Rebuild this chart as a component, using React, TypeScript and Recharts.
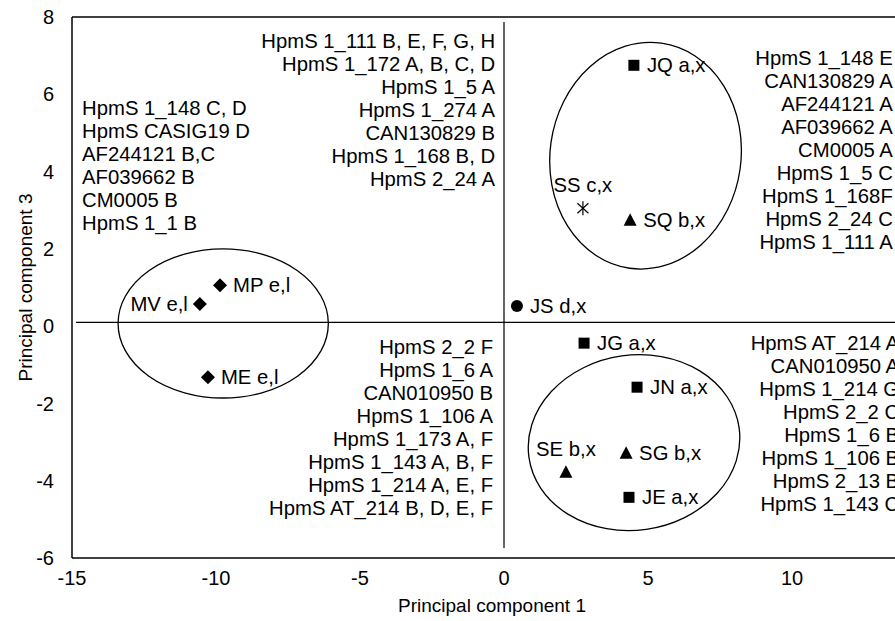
import {
	ReferenceArea,
	ReferenceDot,
	ReferenceLine,
	Scatter,
	ScatterChart,
	XAxis,
	YAxis,
} from 'recharts'

// PCA scores (PC1 vs PC3)
const diamondPoints = [
	{ name: 'MV e,l', x: -10.56, y: 0.57 },
	{ name: 'MP e,l', x: -9.86, y: 1.06 },
	{ name: 'ME e,l', x: -10.28, y: -1.32 },
]
const circlePoints = [{ name: 'JS d,x', x: 0.45, y: 0.52 }]
const squarePoints = [
	{ name: 'JQ a,x', x: 4.51, y: 6.75 },
	{ name: 'JG a,x', x: 2.78, y: -0.44 },
	{ name: 'JN a,x', x: 4.62, y: -1.58 },
	{ name: 'JE a,x', x: 4.34, y: -4.43 },
]
const trianglePoints = [
	{ name: 'SQ b,x', x: 4.38, y: 2.74 },
	{ name: 'SG b,x', x: 4.24, y: -3.29 },
	{ name: 'SE b,x', x: 2.15, y: -3.78 },
]
const starPoints = [{ name: 'SS c,x', x: 2.74, y: 3.05 }]

const xTicks = [-15, -10, -5, 0, 5, 10, 15]
const yTicks = [-6, -4, -2, 0, 2, 4, 6, 8]

const upperLeftStrains = [
	'HpmS 1_148 C, D',
	'HpmS CASIG19 D',
	'AF244121 B,C',
	'AF039662 B',
	'CM0005 B',
	'HpmS 1_1 B',
]
const upperMiddleStrains = [
	'HpmS 1_111 B, E, F, G, H',
	'HpmS 1_172 A, B, C, D',
	'HpmS 1_5 A',
	'HpmS 1_274 A',
	'CAN130829 B',
	'HpmS 1_168 B, D',
	'HpmS 2_24 A',
]
const lowerMiddleStrains = [
	'HpmS 2_2 F',
	'HpmS 1_6 A',
	'CAN010950 B',
	'HpmS 1_106 A',
	'HpmS 1_173 A, F',
	'HpmS 1_143 A, B, F',
	'HpmS 1_214 A, E, F',
	'HpmS AT_214 B, D, E, F',
]
const upperRightStrains = [
	'HpmS 1_148 E',
	'CAN130829 A',
	'AF244121 A',
	'AF039662 A',
	'CM0005 A',
	'HpmS 1_5 C',
	'HpmS 1_168F',
	'HpmS 2_24 C',
	'HpmS 1_111 A',
]
const lowerRightStrains = [
	'HpmS AT_214 A',
	'CAN010950 A',
	'HpmS 1_214 G',
	'HpmS 2_2 C',
	'HpmS 1_6 B',
	'HpmS 1_106 B',
	'HpmS 2_13 B',
	'HpmS 1_143 C',
]

const FONT = '"Liberation Sans", Arial, sans-serif'
const TEXT_SIZE = 20.3

// where the point label sits, if not to the right
const labelSide: Record<string, string> = {
	'MV e,l': 'left',
	'SS c,x': 'above',
	'SE b,x': 'above',
}

function PointLabel({ cx, cy, name }: any) {
	const side = labelSide[name] || 'right'
	let x = cx + 13
	let y = cy
	let anchor = 'start'
	if (side === 'left') {
		x = cx - 12
		anchor = 'end'
	} else if (side === 'above') {
		x = cx
		y = cy - 23
		anchor = 'middle'
	}
	return (
		<text x={x} y={y} dy='0.35em' textAnchor={anchor} fontSize={TEXT_SIZE} fontFamily={FONT} fill='#000'>
			{name}
		</text>
	)
}

const makeShape = (kind: string) => (props: any) => {
	const { cx, cy, payload } = props
	let mark = null
	if (kind === 'diamond') {
		mark = <polygon points={`${cx},${cy - 7} ${cx + 7},${cy} ${cx},${cy + 7} ${cx - 7},${cy}`} fill='#000' />
	} else if (kind === 'square') {
		mark = <rect x={cx - 5.5} y={cy - 5.5} width={11} height={11} fill='#000' />
	} else if (kind === 'triangle') {
		mark = <polygon points={`${cx},${cy - 7} ${cx + 6.5},${cy + 5.5} ${cx - 6.5},${cy + 5.5}`} fill='#000' />
	} else if (kind === 'circle') {
		mark = <circle cx={cx} cy={cy} r={6} fill='#000' />
	} else {
		mark = (
			<g stroke='#000' strokeWidth={1.2}>
				<line x1={cx} y1={cy - 7} x2={cx} y2={cy + 7} />
				<line x1={cx - 5.5} y1={cy - 5} x2={cx + 5.5} y2={cy + 5} />
				<line x1={cx - 5.5} y1={cy + 5} x2={cx + 5.5} y2={cy - 5} />
			</g>
		)
	}
	return (
		<g>
			{mark}
			<PointLabel cx={cx} cy={cy} name={payload.name} />
		</g>
	)
}

const ellipseShape = (angle: number) => (p: any) => {
	const cx = p.x + p.width / 2
	const cy = p.y + p.height / 2
	return (
		<ellipse
			cx={cx}
			cy={cy}
			rx={Math.abs(p.width) / 2}
			ry={Math.abs(p.height) / 2}
			transform={`rotate(${angle} ${cx} ${cy})`}
			fill='none'
			stroke='#000'
			strokeWidth={1.3}
		/>
	)
}

const textBlock = (lines: string[], anchor: string) => (p: any) => (
	<text x={p.cx} y={p.cy} textAnchor={anchor} fontSize={TEXT_SIZE} fontFamily={FONT} fill='#000'>
		{lines.map((l, i) => (
			<tspan key={i} x={p.cx} dy={i === 0 ? '0.35em' : 23}>
				{l}
			</tspan>
		))}
	</text>
)

export default function App() {
	return (
		<div
			style={{
				position: 'fixed',
				left: 0,
				top: 0,
				width: 895,
				height: 621,
				overflow: 'hidden',
				background: '#fff',
			}}
		>
			<ScatterChart
				width={946}
				height={621}
				margin={{ top: 17, right: 10, left: 12, bottom: 9 }}
				style={{ fontFamily: FONT }}
			>
				<XAxis
					type='number'
					dataKey='x'
					domain={[-15, 15]}
					ticks={xTicks}
					interval={0}
					allowDataOverflow
					axisLine={{ stroke: '#000', strokeWidth: 1.5 }}
					tickLine={false}
					tickMargin={7}
					tick={{ fill: '#000', fontSize: 20 }}
					height={54}
					label={{
						value: 'Principal component 1',
						position: 'insideBottom',
						offset: 0,
						dx: -12,
						fill: '#000',
						fontSize: 19,
					}}
				/>
				<YAxis
					type='number'
					dataKey='y'
					domain={[-6, 8]}
					ticks={yTicks}
					interval={0}
					allowDataOverflow
					axisLine={{ stroke: '#000', strokeWidth: 1.5 }}
					tickLine={false}
					tickMargin={12}
					tick={{ fill: '#000', fontSize: 20 }}
					width={60}
					label={{
						value: 'Principal component 3',
						angle: -90,
						position: 'insideLeft',
						offset: 13,
						style: { textAnchor: 'middle' },
						fill: '#000',
						fontSize: 19,
					}}
				/>
				<ReferenceLine y={8} stroke='#000' strokeWidth={1.5} />
				<ReferenceLine
					segment={[
						{ x: -14.86, y: 0.1 },
						{ x: 15, y: 0.1 },
					]}
					stroke='#000'
					strokeWidth={1.2}
				/>
				<ReferenceLine
					segment={[
						{ x: 0, y: 7.87 },
						{ x: 0, y: -5.74 },
					]}
					stroke='#000'
					strokeWidth={1.2}
				/>
				<ReferenceArea x1={-13.4} x2={-6.1} y1={-1.86} y2={2.0} shape={ellipseShape(0)} />
				<ReferenceArea x1={1.6} x2={8.23} y1={1.47} y2={7.35} shape={ellipseShape(8)} />
				<ReferenceArea x1={0.83} x2={8.2} y1={-5.28} y2={-0.75} shape={ellipseShape(-8)} />

				<ReferenceDot x={-14.65} y={5.64} r={0} shape={textBlock(upperLeftStrains, 'start')} />
				<ReferenceDot x={-0.31} y={7.37} r={0} shape={textBlock(upperMiddleStrains, 'end')} />
				<ReferenceDot x={-0.38} y={-0.54} r={0} shape={textBlock(lowerMiddleStrains, 'end')} />
				<ReferenceDot x={13.5} y={6.94} r={0} shape={textBlock(upperRightStrains, 'end')} />
				<ReferenceDot x={13.72} y={-0.44} r={0} shape={textBlock(lowerRightStrains, 'end')} />

				<Scatter data={diamondPoints} shape={makeShape('diamond')} isAnimationActive={false} />
				<Scatter data={circlePoints} shape={makeShape('circle')} isAnimationActive={false} />
				<Scatter data={squarePoints} shape={makeShape('square')} isAnimationActive={false} />
				<Scatter data={trianglePoints} shape={makeShape('triangle')} isAnimationActive={false} />
				<Scatter data={starPoints} shape={makeShape('star')} isAnimationActive={false} />
			</ScatterChart>
		</div>
	)
}
